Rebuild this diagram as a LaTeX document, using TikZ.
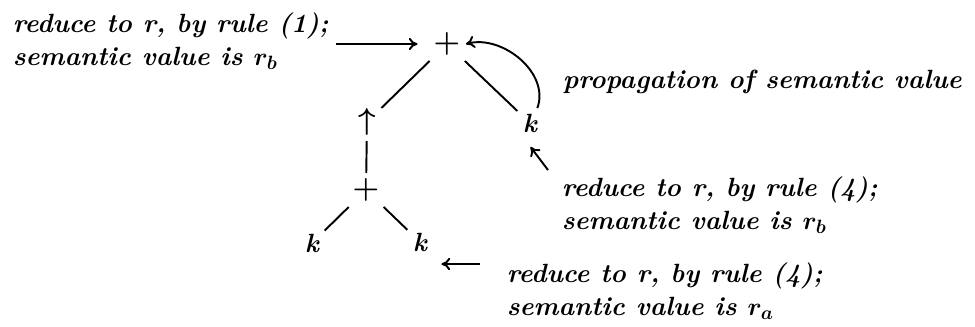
\documentclass[tikz,border=0pt]{standalone}
\usetikzlibrary{arrows.meta,positioning,calc}
\usepackage{amsmath}

\begin{document}
\begin{tikzpicture}[x=0.02cm, y=-0.02cm,
  lbl/.style={font=\fontsize{15}{18.7}\selectfont\bfseries\itshape\boldmath, inner sep=2pt},
  note/.style={lbl, align=left, anchor=west},
  sym/.style={font=\fontsize{19}{22}\selectfont\boldmath, inner sep=3pt},
  edge/.style={line width=1.1pt},
  arr/.style={edge, -{To[length=5pt,width=7pt]}},
]
\useasboundingbox (0,0) rectangle (975,326);

% Tree
\node[sym] (top) at (447,44) {$+$};
\node[sym] (ua) at (367,122) {$\uparrow$};
\node[lbl, inner sep=3pt] (kr) at (530,123) {k};
\node[sym] (low) at (366,190) {$+$};
\node[lbl, inner sep=3pt] (kl) at (312,243) {k};
\node[lbl, inner sep=3pt] (kb) at (420,242) {k};

\draw[edge] (top) -- (ua);
\draw[edge] (top) -- (kr);
\draw[edge] (ua) -- (low);
\draw[edge] (low) -- (kl);
\draw[edge] (low) -- (kb);

% Notes
\node[note] (n1) at (9,41) {reduce to r, by rule (1);\\semantic value is $r_b$};
\node[note] (prop) at (559,82) {propagation of semantic value};
\node[note] (n2) at (558,205) {reduce to r, by rule (4);\\semantic value is $r_b$};
\node[note] (n3) at (503,291) {reduce to r, by rule (4);\\semantic value is $r_a$};
\coordinate (t2) at (548,170);
\coordinate (t3) at (480,264);

% Arrows
\draw[arr, shorten <=2pt, shorten >=6pt] (n1.east |- top) -- (top);
\draw[arr] ([xshift=-3pt]kr.north east) to[out=70, in=15] (top.east);
\draw[arr, shorten >=6.5pt] (t2) -- ($(kr.south)!0.5!(kr.south west)$);
\draw[arr, shorten >=5pt] (t3) -- (t3 -| kb.east);

\end{tikzpicture}
\end{document}
